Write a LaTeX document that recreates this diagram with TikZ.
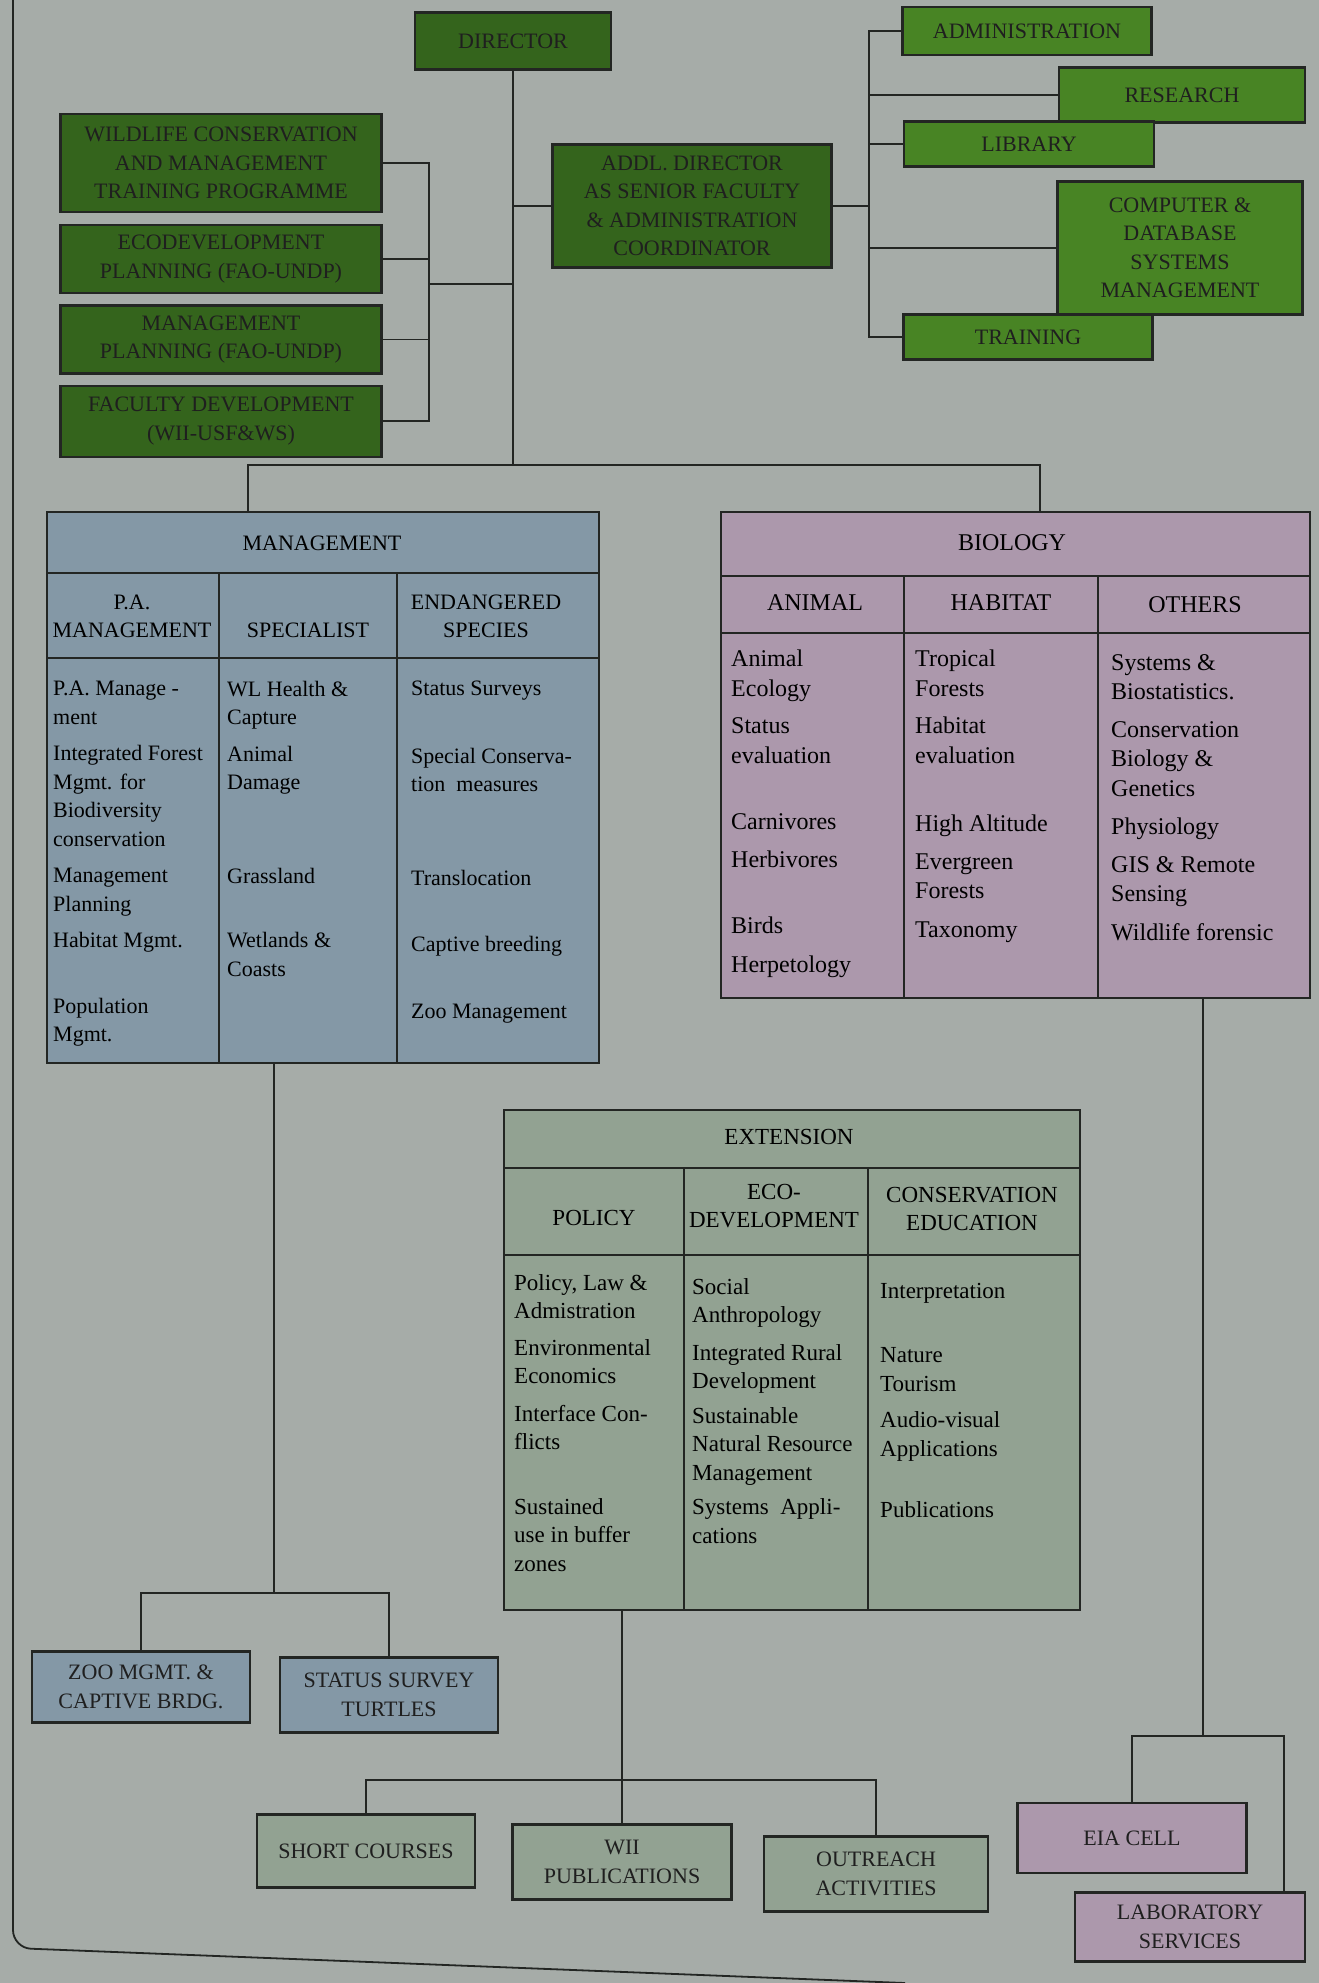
\documentclass[tikz,border=0pt]{standalone}
\usepackage{fontspec}
\setmainfont{Liberation Serif}
\usetikzlibrary{positioning}
\definecolor{pagegray}{RGB}{166,172,168}
\definecolor{darkleaf}{RGB}{52,100,28}
\definecolor{brightleaf}{RGB}{72,132,36}
\definecolor{steelcell}{RGB}{132,152,166}
\definecolor{mauvecell}{RGB}{172,152,172}
\definecolor{sagecell}{RGB}{146,162,146}
\definecolor{inkline}{RGB}{35,38,35}

\tikzset{
  unitbox/.style={draw=inkline, line width=2.2pt, align=center, inner sep=2pt,
    font=\fontsize{22}{28.5}\selectfont, text=black!88},
  leafbox/.style={unitbox, fill=darkleaf, minimum width=321},
  brightbox/.style={unitbox, fill=brightleaf},
  tablebox/.style={draw=inkline, line width=2.4pt, inner sep=0pt, anchor=north west},
  gridline/.style={inkline, line width=2pt},
  wire/.style={inkline, line width=1.8pt},
  headtext/.style={align=center, inner sep=0pt, font=\fontsize{22}{28.5}\selectfont},
  entry/.style={align=left, inner sep=0pt, anchor=north west,
    font=\fontsize{22}{28.5}\selectfont},
  bioface/.style={font=\fontsize{24}{29.5}\selectfont},
  extface/.style={font=\fontsize{23}{28.5}\selectfont}
}

\begin{document}
\begin{tikzpicture}[x=1pt,y=-1pt]
  \useasboundingbox (0,0) rectangle (1319,1983);
  \fill[pagegray] (0,0) rectangle (1319,1983);
  \draw[wire, rounded corners=18] (13,0) -- (13,1948) -- (905,1983);

  % top of the institute
  \node[unitbox, fill=darkleaf, minimum width=196, minimum height=57] (director) at (513,41) {DIRECTOR};
  \node[leafbox, minimum height=98] (wctp) at (221,163) {WILDLIFE CONSERVATION\\AND MANAGEMENT\\TRAINING PROGRAMME};
  \node[leafbox, minimum height=68, below=11pt of wctp] (ecoplan) {ECODEVELOPMENT\\PLANNING (FAO-UNDP)};
  \node[leafbox, minimum height=68, below=10pt of ecoplan] (mplan) {MANAGEMENT\\PLANNING (FAO-UNDP)};
  \node[leafbox, minimum height=71, below=10pt of mplan] (fdev) {FACULTY DEVELOPMENT\\(WII-USF\&WS)};
  \node[unitbox, fill=darkleaf, minimum width=279, minimum height=123] (addl) at (692,206)
    {ADDL. DIRECTOR\\AS SENIOR FACULTY\\\& ADMINISTRATION\\COORDINATOR};

  \node[brightbox, minimum width=249, minimum height=48] (admin) at (1027,31) {ADMINISTRATION};
  \node[brightbox, minimum width=246, minimum height=55] (research) at (1182,95) {RESEARCH};
  \node[brightbox, minimum width=250, minimum height=45] (library) at (1029,144) {LIBRARY};
  \node[brightbox, minimum width=245, minimum height=133] (computer) at (1180,248)
    {COMPUTER \&\\DATABASE\\SYSTEMS\\MANAGEMENT};
  \node[brightbox, minimum width=249, minimum height=45] (training) at (1028,337) {TRAINING};

  \coordinate (hub) at (513,465);
  \coordinate (lbus) at (429,284);
  \coordinate (rbus) at (869,206);
  \coordinate (mdrop) at (248,465);
  \coordinate (bdrop) at (1040,465);
  \draw[wire] (director) -- (hub);
  \draw[wire] (addl.west) -- (addl.west -| hub);
  \draw[wire] (wctp.east) -- (wctp.east -| lbus) -- (fdev.east -| lbus) -- (fdev.east);
  \draw[wire] (ecoplan.east) -- (ecoplan.east -| lbus);
  \draw[wire] (mplan.east) -- (mplan.east -| lbus);
  \draw[wire] (lbus) -- (lbus -| hub);
  \draw[wire] (addl.east) -- (rbus);
  \draw[wire] (admin.west) -- (admin.west -| rbus) -- (training.west -| rbus) -- (training.west);
  \draw[wire] (research.west) -- (research.west -| rbus);
  \draw[wire] (library.west) -- (library.west -| rbus);
  \draw[wire] (computer.west) -- (computer.west -| rbus);

  % management table
  \node[tablebox, fill=steelcell, minimum width=552, minimum height=551] (mgmt) at (46,511) {};
  \draw[gridline] (46,573) -- (598,573) (46,658) -- (598,658);
  \foreach \x in {219,397} \draw[gridline] (\x,573) -- (\x,1062);
  \node[headtext] (mgmtcap) at (322,543) {MANAGEMENT};
  \node[headtext] (mgmthd1) at (132,616.5) {P.A.\\MANAGEMENT};
  \node[headtext] (mgmthd2) at (308,630) {SPECIALIST};
  \node[headtext] (mgmthd3) at (486,616.5) {ENDANGERED\\SPECIES};
  \node[entry] (mgmtcol1) at (53,681) {P.A. Manage -\\ment\\[8pt]Integrated Forest\\Mgmt. for\\Biodiversity\\conservation\\[8pt]Management\\Planning\\[8pt]Habitat Mgmt.\\[37pt]Population\\Mgmt.};
  \node[entry] (mgmtcol2) at (227,681) {WL Health \&\\Capture\\[8pt]Animal\\Damage\\[65pt]Grassland\\[36pt]Wetlands \&\\Coasts};
  \node[entry] (mgmtcol3) at (411,681) {Status Surveys\\[39pt]Special Conserva-\\tion\ \ measures\\[65pt]Translocation\\[38pt]Captive breeding\\[38pt]Zoo Management};

  % biology table
  \node[tablebox, fill=mauvecell, minimum width=589, minimum height=486] (bio) at (720,511) {};
  \draw[gridline] (720,576) -- (1309,576) (720,633) -- (1309,633);
  \foreach \x in {904,1098} \draw[gridline] (\x,576) -- (\x,997);
  \node[headtext, bioface] (biocap) at (1012,543) {BIOLOGY};
  \node[headtext, bioface] (biohd1) at (815,603) {ANIMAL};
  \node[headtext, bioface] (biohd2) at (1001,603) {HABITAT};
  \node[headtext, bioface] (biohd3) at (1195,605) {OTHERS};
  \node[entry, bioface] (biocol1) at (731,650) {Animal\\Ecology\\[8pt]Status\\evaluation\\[37pt]Carnivores\\[8pt]Herbivores\\[37pt]Birds\\[9pt]Herpetology};
  \node[entry, bioface] (biocol2) at (915,650) {Tropical\\Forests\\[8pt]Habitat\\evaluation\\[39pt]High Altitude\\[8pt]Evergreen\\Forests\\[9pt]Taxonomy};
  \node[entry, bioface] (biocol3) at (1111,654) {Systems \&\\Biostatistics.\\[8pt]Conservation\\Biology \&\\Genetics\\[9pt]Physiology\\[8pt]GIS \& Remote\\Sensing\\[9pt]Wildlife forensic};

  % extension table
  \node[tablebox, fill=sagecell, minimum width=576, minimum height=500] (ext) at (503,1109) {};
  \draw[gridline] (503,1168) -- (1079,1168) (503,1255) -- (1079,1255);
  \foreach \x in {684,868} \draw[gridline] (\x,1168) -- (\x,1609);
  \node[headtext, extface] (extcap) at (789,1137) {EXTENSION};
  \node[headtext, extface] (exthd1) at (594,1218) {POLICY};
  \node[headtext, extface] (exthd2) at (774,1206) {ECO-\\DEVELOPMENT};
  \node[headtext, extface] (exthd3) at (972,1209) {CONSERVATION\\EDUCATION};
  \node[entry, extface] (extcol1) at (514,1274) {Policy, Law \&\\Admistration\\[8pt]Environmental\\Economics\\[9pt]Interface Con-\\flicts\\[36pt]Sustained\\use in buffer\\zones};
  \node[entry, extface] (extcol2) at (692,1278) {Social\\Anthropology\\[9pt]Integrated Rural\\Development\\[6pt]Sustainable\\Natural Resource\\Management\\[6pt]Systems\ \ Appli-\\cations};
  \node[entry, extface] (extcol3) at (880,1283) {Interpretation\\[36pt]Nature\\Tourism\\[8pt]Audio-visual\\Applications\\[33pt]Publications};

  \draw[wire] (mdrop |- mgmt.north) -- (mdrop) -- (bdrop) -- (bdrop |- bio.north);

  % units below the tables
  \node[unitbox, fill=steelcell, minimum width=218, minimum height=71] (zoo) at (141,1687) {ZOO MGMT. \&\\CAPTIVE BRDG.};
  \node[unitbox, fill=steelcell, minimum width=218, minimum height=75] (turtles) at (389,1695) {STATUS SURVEY\\TURTLES};
  \node[unitbox, fill=sagecell, minimum width=218, minimum height=73] (short) at (366,1851) {SHORT COURSES};
  \node[unitbox, fill=sagecell, minimum width=219, minimum height=75] (wii) at (622,1862) {WII\\PUBLICATIONS};
  \node[unitbox, fill=sagecell, minimum width=224, minimum height=75] (outreach) at (876,1874) {OUTREACH\\ACTIVITIES};
  \node[unitbox, fill=mauvecell, minimum width=229, minimum height=70] (eia) at (1132,1838) {EIA CELL};
  \node[unitbox, fill=mauvecell, minimum width=230, minimum height=69] (lab) at (1190,1927) {LABORATORY\\SERVICES};

  \coordinate (mfork) at (274,1593);
  \coordinate (efork) at (622,1780);
  \coordinate (bfork) at (1203,1736);
  \coordinate (labtap) at (1284,1736);
  \draw[wire] (mfork |- mgmt.south) -- (mfork);
  \draw[wire] (zoo.north) |- (mfork) -| (turtles.north);
  \draw[wire] (efork |- ext.south) -- (wii.north);
  \draw[wire] (short.north) |- (efork) -| (outreach.north);
  \draw[wire] (bfork |- bio.south) -- (bfork);
  \draw[wire] (eia.north) |- (labtap) -- (labtap |- lab.north);
\end{tikzpicture}
\end{document}
